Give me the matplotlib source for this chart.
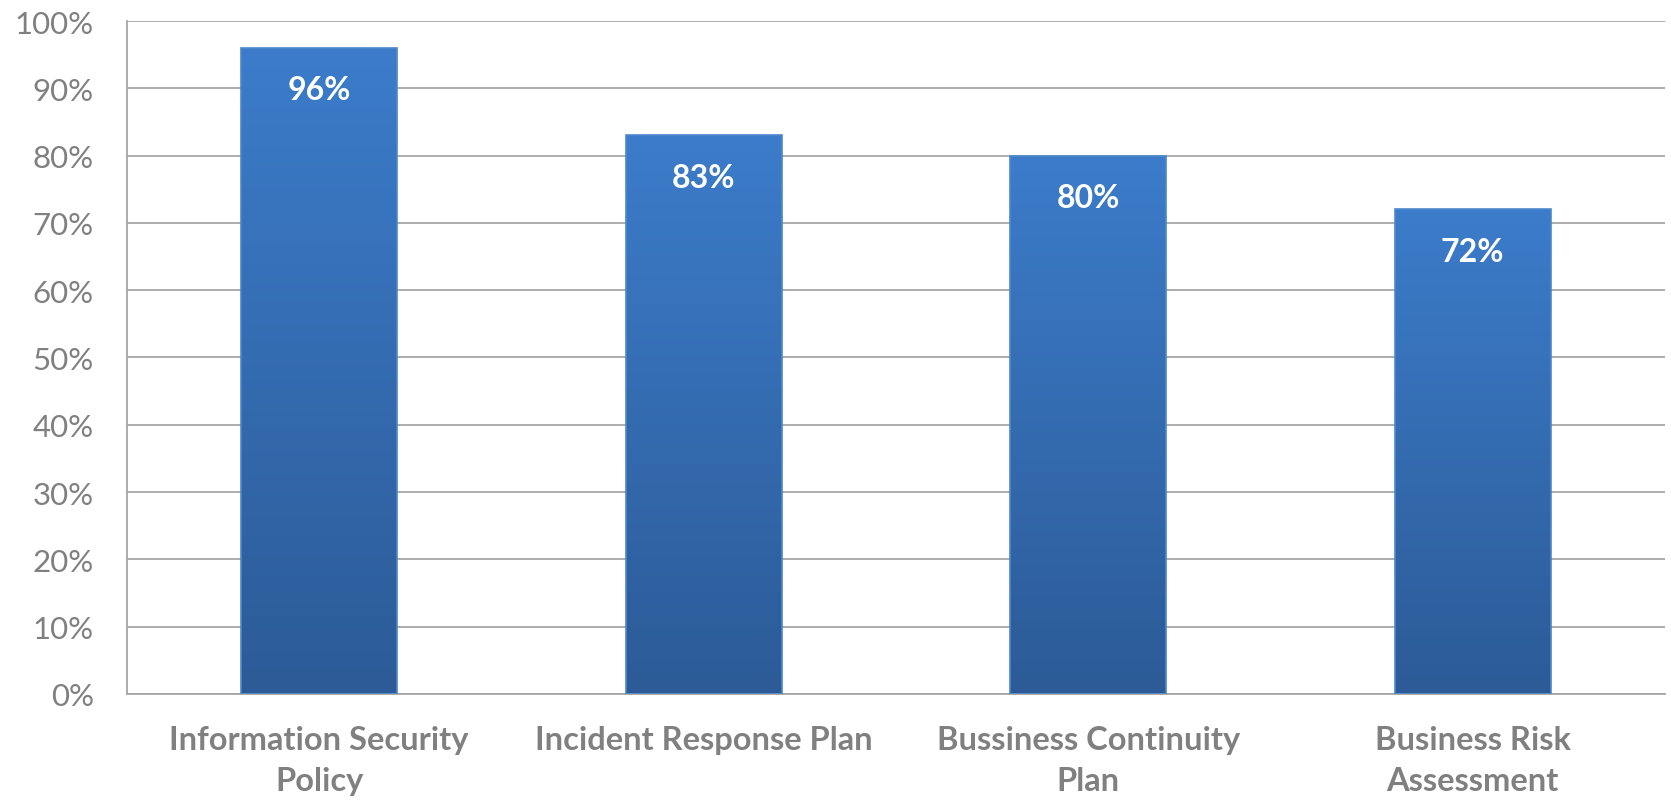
import numpy as np
import matplotlib.pyplot as plt
from matplotlib.colors import LinearSegmentedColormap

# survey results: share of organisations with each document in place
categories = ["Information Security\nPolicy", "Incident Response Plan",
              "Bussiness Continuity\nPlan", "Business Risk\nAssessment"]
values = [96, 83, 80, 72]
labels = ["96%", "83%", "80%", "72%"]
yticks = [0, 10, 20, 30, 40, 50, 60, 70, 80, 90, 100]

grey = "#808080"
plt.rcParams['font.family'] = ['Lato', 'DejaVu Sans']

fig = plt.figure(figsize=(16.71, 8.03), dpi=100)
ax = fig.add_axes([0.076, 0.1345, 0.9204, 0.8381])

x = np.arange(len(values))
bars = ax.bar(x, values, width=0.405, color="none", edgecolor="#4c88cc",
              linewidth=1.2, zorder=3)

# vertical gradient fill, darker towards the base
cmap = LinearSegmentedColormap.from_list("bluegrad", ["#2c5b97", "#3c7cca"])
grad = np.linspace(0, 1, 256).reshape(-1, 1)
for b in bars:
    x0, w, h = b.get_x(), b.get_width(), b.get_height()
    im = ax.imshow(grad, cmap=cmap, origin="lower", aspect="auto",
                   extent=[x0, x0 + w, 0, h], zorder=2)
    im.set_clip_path(b)

for xi, v, lab in zip(x, values, labels):
    ax.annotate(lab, (xi, v), xytext=(0, -42), textcoords="offset pixels",
                ha="center", va="center", color="white", fontsize=23,
                fontweight="bold", zorder=4)

ax.set_xlim(-0.5, len(values) - 0.5)
ax.set_ylim(0, 100)
ax.set_yticks(yticks)
ax.set_yticklabels([f"{t}%" for t in yticks], fontsize=22.5, color=grey)
ax.set_xticks(x)
ax.set_xticklabels(categories, fontsize=23.5, fontweight="bold", color=grey,
                   linespacing=1.5)
ax.tick_params(axis="y", length=0, pad=24)
ax.tick_params(axis="x", length=0, pad=22)

ax.grid(axis="y", color="#a6a6a6", linewidth=1.3, zorder=0)
ax.set_axisbelow(True)
for side in ["top", "right"]:
    ax.spines[side].set_visible(False)
for side in ["left", "bottom"]:
    ax.spines[side].set_color("#a6a6a6")
    ax.spines[side].set_linewidth(1.3)

fig.savefig("out.png", dpi=100)
